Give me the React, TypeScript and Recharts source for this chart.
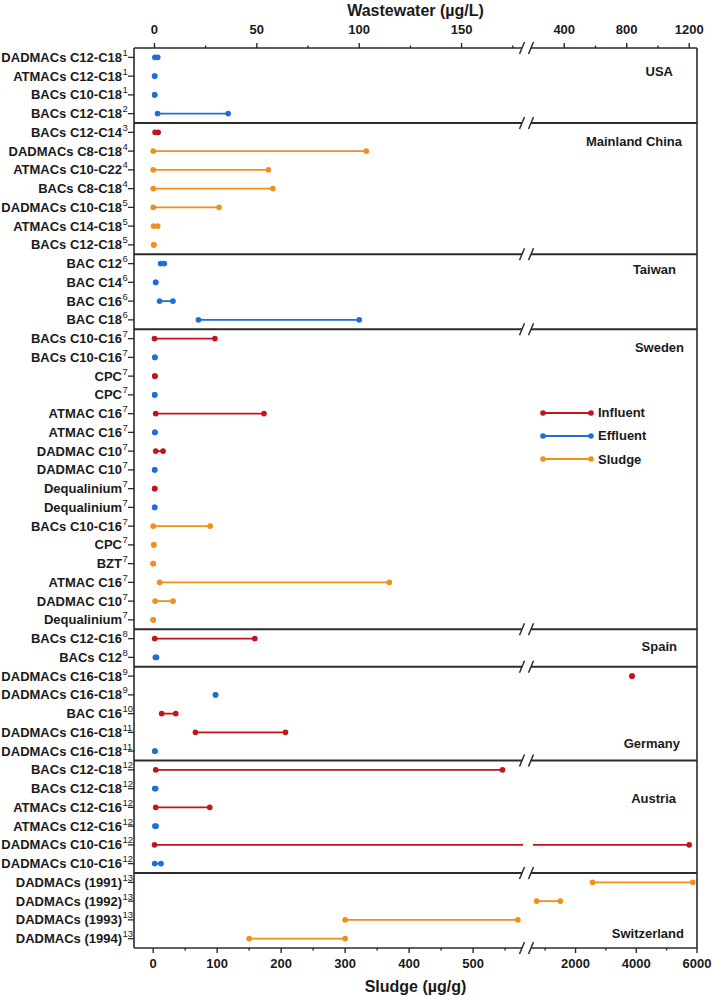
import React from "react";
import {
  ScatterChart,
  Scatter,
  XAxis,
  YAxis,
  ReferenceLine,
  ReferenceDot,
  Legend,
} from "recharts";

// one entry per row, top to bottom
const ROW_LABELS = [
  "DADMACs C12-C18", "ATMACs C12-C18", "BACs C10-C18", "BACs C12-C18",
  "BACs C12-C14", "DADMACs C8-C18", "ATMACs C10-C22", "BACs C8-C18",
  "DADMACs C10-C18", "ATMACs C14-C18", "BACs C12-C18",
  "BAC C12", "BAC C14", "BAC C16", "BAC C18",
  "BACs C10-C16", "BACs C10-C16", "CPC", "CPC", "ATMAC C16", "ATMAC C16",
  "DADMAC C10", "DADMAC C10", "Dequalinium", "Dequalinium", "BACs C10-C16",
  "CPC", "BZT", "ATMAC C16", "DADMAC C10", "Dequalinium",
  "BACs C12-C16", "BACs C12",
  "DADMACs C16-C18", "DADMACs C16-C18", "BAC C16", "DADMACs C16-C18", "DADMACs C16-C18",
  "BACs C12-C18", "BACs C12-C18", "ATMACs C12-C16", "ATMACs C12-C16",
  "DADMACs C10-C16", "DADMACs C10-C16",
  "DADMACs (1991)", "DADMACs (1992)", "DADMACs (1993)", "DADMACs (1994)",
];
const ROW_REFS = [
  1, 1, 1, 2,
  3, 4, 4, 4, 5, 5, 5,
  6, 6, 6, 6,
  7, 7, 7, 7, 7, 7, 7, 7, 7, 7, 7, 7, 7, 7, 7, 7,
  8, 8,
  9, 9, 10, 11, 11,
  12, 12, 12, 12, 12, 12,
  13, 13, 13, 13,
];
const ROW_KIND = [
  "Effluent", "Effluent", "Effluent", "Effluent",
  "Influent", "Sludge", "Sludge", "Sludge", "Sludge", "Sludge", "Sludge",
  "Effluent", "Effluent", "Effluent", "Effluent",
  "Influent", "Effluent", "Influent", "Effluent", "Influent", "Effluent",
  "Influent", "Effluent", "Influent", "Effluent", "Sludge",
  "Sludge", "Sludge", "Sludge", "Sludge", "Sludge",
  "Influent", "Effluent",
  "Influent", "Effluent", "Influent", "Influent", "Effluent",
  "Influent", "Effluent", "Influent", "Effluent", "Influent", "Effluent",
  "Sludge", "Sludge", "Sludge", "Sludge",
];
const ROW_LOW = [
  0.2, 0.1, 0.1, 1.5,
  0.3, 0, 0, 0, 0, 0.5, 1,
  3, 0.6, 2.5, 21.5,
  0, 0.2, 0.2, 0.1, 0.6, 0.2, 0.6, 0.1, 0.1, 0.1, 0,
  1, 0, 10, 3, 0,
  0.1, 0.4,
  834, 29.8, 3.5, 20, 0.2,
  0.6, 0.1, 0.6, 0.2, 0, 0.1,
  2560, 720, 300, 150,
];
const ROW_HIGH = [
  1.6, 0.1, 0.1, 36,
  1.8, 333, 180, 187, 103, 7, 1,
  4.8, 0.6, 9, 100,
  29.5, 0.2, 0.2, 0.1, 53.5, 0.2, 4.2, 0.1, 0.1, 0.1, 89,
  1, 0, 369, 31, 0,
  49, 1,
  834, 29.8, 10.4, 64, 0.2,
  170, 0.6, 27, 0.8, 1200, 3.2,
  5860, 1500, 570, 300,
];

const GROUP_NAMES = ["USA", "Mainland China", "Taiwan", "Sweden", "Spain", "Germany", "Austria", "Switzerland"];
const GROUP_SIZES = [4, 7, 4, 16, 2, 5, 6, 4];

const WW_MAJOR = [0, 50, 100, 150, 400, 800, 1200];
const WW_MINOR = [25, 75, 125, 175, 600, 1000];
const SL_MAJOR = [0, 100, 200, 300, 400, 500, 2000, 4000, 6000];
const SL_MINOR = [50, 150, 250, 350, 450, 550, 1000, 3000, 5000];

const KINDS = ["Influent", "Effluent", "Sludge"];
const COLORS: Record<string, string> = {
  Influent: "#c3131c",
  Effluent: "#1d6fd6",
  Sludge: "#f28e1c",
};

// layout
const FONT = '"Liberation Sans", Arial, Helvetica, sans-serif';
const INK = "#1a1a1a";
const FRAME = "#2b2b2b";
const U_SPANS = [[0, 389], [399, 563]];
const U_MAX = 563;
const BREAK_U = 392.5;
const WW_SEG = [[-10, 180], [200, 1250]];
const SL_SEG = [[-30, 578], [600, 6000]];
const GROUP_LABEL_ROW = [0.77, 4.5, 11.3, 15.45, 31.43, 36.6, 39.5, 46.7];
const GROUP_LABEL_U = [539, 548, 542, 550, 543, 546, 542, 550];

const broken = (seg: number[][]) => (v: number) => {
  const k = v <= seg[0][1] ? 0 : 1;
  const [d0, d1] = seg[k];
  const [r0, r1] = U_SPANS[k];
  return r0 + ((v - d0) / (d1 - d0)) * (r1 - r0);
};
const wwU = broken(WW_SEG);
const slU = broken(SL_SEG);

const SEP_ROWS: number[] = [];
GROUP_SIZES.slice(0, -1).reduce((acc, n) => {
  SEP_ROWS.push(acc + n - 0.5);
  return acc + n;
}, 0);

type Pt = { u: number; row: number; dot: boolean };
const series: { key: string; axis: string; color: string; pts: Pt[] }[] = [];
ROW_LABELS.forEach((_, i) => {
  const kind = ROW_KIND[i];
  const sludge = kind === "Sludge";
  const seg = sludge ? SL_SEG : WW_SEG;
  const toU = sludge ? slU : wwU;
  const lo = ROW_LOW[i];
  const hi = ROW_HIGH[i];
  // a range that crosses the axis break is drawn in two pieces
  const pieces: Pt[][] =
    lo <= seg[0][1] && hi >= seg[1][0]
      ? [
          [{ u: toU(lo), row: i, dot: true }, { u: toU(seg[0][1]), row: i, dot: false }],
          [{ u: toU(seg[1][0]), row: i, dot: false }, { u: toU(hi), row: i, dot: true }],
        ]
      : [[{ u: toU(lo), row: i, dot: true }, { u: toU(hi), row: i, dot: true }]];
  pieces.forEach((pts, k) =>
    series.push({ key: `r${i}-${k}`, axis: sludge ? "sl" : "ww", color: COLORS[kind], pts }),
  );
});

const WW_MAJOR_U = WW_MAJOR.map(wwU);
const SL_MAJOR_U = SL_MAJOR.map(slU);
const WW_TICKS = [...WW_MAJOR_U, ...WW_MINOR.map(wwU)];
const SL_TICKS = [...SL_MAJOR_U, ...SL_MINOR.map(slU)];
const ROW_TICKS = ROW_LABELS.map((_, i) => i);

const xTick = (side: "top" | "bottom", majorU: number[], majors: number[]) => (p: any) => {
  const v = p.payload.value;
  const j = majorU.findIndex((m) => Math.abs(m - v) < 1e-6);
  const dir = side === "top" ? -1 : 1;
  const len = j >= 0 ? 5 : 2.5;
  return (
    <g>
      <line x1={p.x} x2={p.x} y1={p.y} y2={p.y + dir * len} stroke={FRAME} strokeWidth={1.4} />
      {j >= 0 && (
        <text
          x={p.x}
          y={side === "top" ? p.y - 14 : p.y + 20}
          textAnchor="middle"
          fontSize={13}
          fontWeight={700}
          fill={INK}
          fontFamily={FONT}
        >
          {majors[j]}
        </text>
      )}
    </g>
  );
};

const yTick = (p: any) => {
  const i = Math.round(p.payload.value);
  return (
    <g>
      <line x1={p.x - 6} x2={p.x} y1={p.y} y2={p.y} stroke={FRAME} strokeWidth={1.3} />
      <text x={p.x - 12} y={p.y + 4.6} textAnchor="end" fontSize={13} fontWeight={700} fill={INK} fontFamily={FONT}>
        {ROW_LABELS[i]}
      </text>
      <text x={p.x - 11.5} y={p.y - 1.5} fontSize={9.5} fill={INK} fontFamily={FONT}>
        {ROW_REFS[i]}
      </text>
    </g>
  );
};

const axisTitle = (text: string, side: "top" | "bottom") => (props: any) => {
  const vb = props.viewBox;
  return (
    <text
      x={vb.x + vb.width / 2}
      y={side === "top" ? vb.y + 15.5 : vb.y + vb.height - 4}
      textAnchor="middle"
      fontSize={16}
      fontWeight={700}
      fill={INK}
      fontFamily={FONT}
    >
      {text}
    </text>
  );
};

const dotShape = (color: string) => (p: any) =>
  p.payload && p.payload.dot ? <circle cx={p.cx} cy={p.cy} r={2.8} fill={color} /> : <g />;

const breakMark = (p: any) => {
  const { cx, cy } = p;
  return (
    <g>
      <polygon
        points={`${cx - 6.5},${cy + 5} ${cx - 2.5},${cy - 5} ${cx + 6.5},${cy - 5} ${cx + 2.5},${cy + 5}`}
        fill="#fff"
      />
      <line x1={cx - 7} y1={cy + 6} x2={cx - 2} y2={cy - 6} stroke={FRAME} strokeWidth={1.5} />
      <line x1={cx + 2} y1={cy + 6} x2={cx + 7} y2={cy - 6} stroke={FRAME} strokeWidth={1.5} />
    </g>
  );
};

const LegendBox = () => (
  <div style={{ fontFamily: FONT }}>
    {KINDS.map((k) => (
      <div key={k} style={{ display: "flex", alignItems: "center", height: 23.3 }}>
        <svg width={54} height={10}>
          <line x1={3} x2={51} y1={5} y2={5} stroke={COLORS[k]} strokeWidth={2} />
          <circle cx={3} cy={5} r={2.8} fill={COLORS[k]} />
          <circle cx={51} cy={5} r={2.8} fill={COLORS[k]} />
        </svg>
        <span style={{ marginLeft: 4, fontSize: 13, fontWeight: 700, color: INK }}>{k}</span>
      </div>
    ))}
  </div>
);

export default function App() {
  return (
    <div style={{ position: "absolute", left: 0, top: 0, width: 712, height: 996, background: "#fff" }}>
      <ScatterChart
        width={712}
        height={996}
        margin={{ top: 0, right: 15, bottom: 0, left: 0 }}
        style={{ fontFamily: FONT }}
      >
        <XAxis
          xAxisId="ww"
          orientation="top"
          type="number"
          dataKey="u"
          domain={[0, U_MAX]}
          allowDataOverflow
          ticks={WW_TICKS}
          interval={0}
          height={48}
          tickSize={0}
          tickMargin={0}
          tickLine={false}
          axisLine={{ stroke: FRAME, strokeWidth: 1.6 }}
          tick={xTick("top", WW_MAJOR_U, WW_MAJOR)}
          label={{ content: axisTitle("Wastewater (µg/L)", "top") }}
        />
        <XAxis
          xAxisId="sl"
          orientation="bottom"
          type="number"
          dataKey="u"
          domain={[0, U_MAX]}
          allowDataOverflow
          ticks={SL_TICKS}
          interval={0}
          height={48}
          tickSize={0}
          tickMargin={0}
          tickLine={false}
          axisLine={{ stroke: FRAME, strokeWidth: 1.6 }}
          tick={xTick("bottom", SL_MAJOR_U, SL_MAJOR)}
          label={{ content: axisTitle("Sludge (µg/g)", "bottom") }}
        />
        <YAxis
          yAxisId="rows"
          type="number"
          dataKey="row"
          domain={[-0.5, ROW_LABELS.length - 0.5]}
          reversed
          allowDataOverflow
          ticks={ROW_TICKS}
          interval={0}
          width={134}
          tickSize={0}
          tickMargin={0}
          tickLine={false}
          axisLine={{ stroke: FRAME, strokeWidth: 1.6 }}
          tick={yTick}
        />
        <ReferenceLine xAxisId="ww" yAxisId="rows" x={U_MAX} stroke={FRAME} strokeWidth={1.6} />
        {SEP_ROWS.map((r) => (
          <ReferenceLine key={`sep${r}`} xAxisId="ww" yAxisId="rows" y={r} stroke={FRAME} strokeWidth={1.8} />
        ))}
        {[-0.5, ...SEP_ROWS, ROW_LABELS.length - 0.5].map((r) => (
          <ReferenceDot
            key={`brk${r}`}
            xAxisId="ww"
            yAxisId="rows"
            x={BREAK_U}
            y={r}
            ifOverflow="visible"
            shape={breakMark}
          />
        ))}
        {GROUP_NAMES.map((g, k) => (
          <ReferenceDot
            key={g}
            xAxisId="ww"
            yAxisId="rows"
            x={GROUP_LABEL_U[k]}
            y={GROUP_LABEL_ROW[k]}
            ifOverflow="visible"
            shape={(p: any) => (
              <text
                x={p.cx}
                y={p.cy + 4.6}
                textAnchor="end"
                fontSize={13}
                fontWeight={700}
                fill={INK}
                fontFamily={FONT}
              >
                {g}
              </text>
            )}
          />
        ))}
        {series.map((s) => (
          <Scatter
            key={s.key}
            data={s.pts}
            xAxisId={s.axis}
            yAxisId="rows"
            fill={s.color}
            line={{ stroke: s.color, strokeWidth: 1.8 }}
            shape={dotShape(s.color)}
            legendType="none"
            isAnimationActive={false}
          />
        ))}
        <Legend
          layout="vertical"
          align="center"
          verticalAlign="middle"
          wrapperStyle={{ left: 540, top: 401, width: 140 }}
          content={() => <LegendBox />}
        />
      </ScatterChart>
    </div>
  );
}
